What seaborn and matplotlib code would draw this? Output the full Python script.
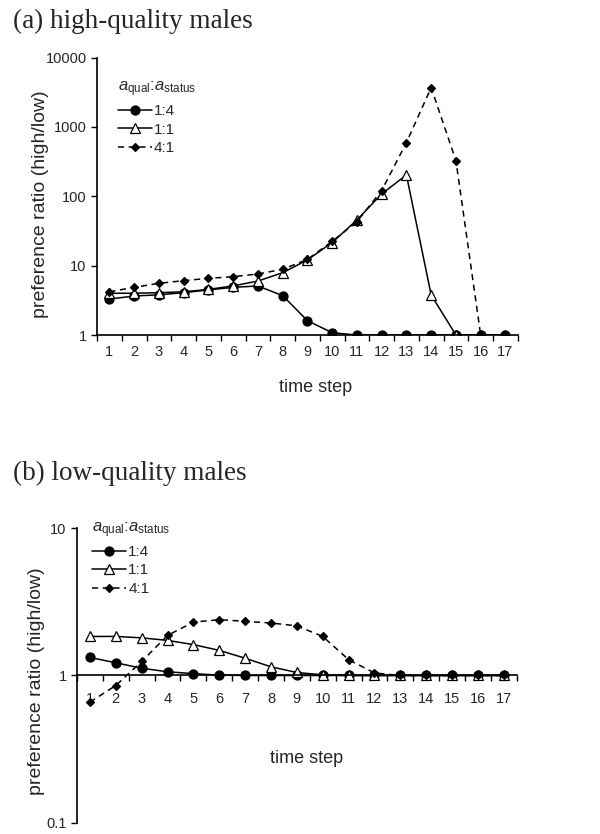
import seaborn as sns
import matplotlib.pyplot as plt
import matplotlib.ticker as mticker
import numpy as np

# time steps and preference ratios
steps = list(range(1, 18))

high_14 = [3.3, 3.65, 3.8, 4.08, 4.46, 4.87, 5.09, 3.7, 1.61, 1.08, 1.0, 1.0, 1.0, 1.0, 1.0, 1.0, 1.0]
high_11 = [4.0, 4.0, 4.08, 4.2, 4.55, 5.1, 6.0, 7.9, 12.1, 21.5, 45.6, 108, 203, 3.77, 1.0, 1.0, 1.0]
high_41 = [4.2, 4.87, 5.56, 6.08, 6.56, 6.94, 7.58, 8.85, 12.3, 22.4, 43, 121, 594, 3690, 327, 1.0, 1.0]

low_14 = [1.325, 1.22, 1.12, 1.06, 1.03, 1.005, 1.0, 1.0, 1.0, 1.0, 1.0, 1.0, 1.0, 1.0, 1.0, 1.0, 1.0]
low_11 = [1.84, 1.84, 1.80, 1.73, 1.62, 1.48, 1.31, 1.145, 1.048, 1.01, 1.0, 1.0, 1.0, 1.0, 1.0, 1.0, 1.0]
low_41 = [0.66, 0.855, 1.245, 1.87, 2.30, 2.39, 2.33, 2.27, 2.17, 1.84, 1.28, 1.04, 1.0, 1.0, 1.0, 1.0, 1.0]

ratio_labels = ['1:4', '1:1', '4:1']

sns.set_style("ticks")
plt.rcParams['font.family'] = ['Liberation Sans', 'DejaVu Sans']
plt.rcParams['mathtext.fontset'] = 'custom'
plt.rcParams['mathtext.rm'] = 'Liberation Sans'
plt.rcParams['mathtext.it'] = 'Liberation Sans:italic'

fig = plt.figure(figsize=(6, 8.34), dpi=100)
ax1 = fig.add_axes([0.1617, 0.5983, 0.7013, 0.3327])
ax2 = fig.add_axes([0.1283, 0.0132, 0.733, 0.3537])

styles = [
    dict(marker='o', markersize=6.5, markerfacecolor='black', markeredgecolor='black', linestyle='-'),
    dict(marker='^', markersize=6.5, markerfacecolor='white', markeredgecolor='black', linestyle='-'),
    dict(marker='D', markersize=4, markerfacecolor='black', markeredgecolor='black', linestyle=(0, (4, 3))),
]


def draw(ax, series):
    for vals, lab, st in zip(series, ratio_labels, styles):
        sns.lineplot(x=steps, y=vals, ax=ax, color='black', linewidth=1.1,
                     label=lab, markeredgewidth=0.9, **st)
    ax.set_yscale('log')
    ax.set_xlim(0.5, 17.5)
    ax.xaxis.set_major_locator(mticker.FixedLocator(steps))
    ax.xaxis.set_minor_locator(mticker.FixedLocator(np.arange(0.5, 18, 1)))
    ax.tick_params(axis='x', which='major', length=0, labelsize=10.5, pad=7)
    ax.tick_params(axis='x', which='minor', length=4, width=1, direction='out', color='black')
    ax.tick_params(axis='y', which='major', length=4, width=1, direction='out', labelsize=10.5, color='black')
    ax.tick_params(axis='y', which='minor', length=0)
    for s in ['top', 'right']:
        ax.spines[s].set_visible(False)
    for s in ['left', 'bottom']:
        ax.spines[s].set_linewidth(1.2)
        ax.spines[s].set_color('black')
    leg = ax.legend(title=r'$a_{\mathrm{qual}}$:$a_{\mathrm{status}}$', frameon=False,
                    fontsize=11, title_fontsize=12, alignment='left',
                    handlelength=2.2, handletextpad=0.15, labelspacing=0.3,
                    borderpad=0, borderaxespad=0)
    return leg


# (a) high-quality males
draw(ax1, [high_14, high_11, high_41])
ax1.set_ylim(1, 10000)
ax1.yaxis.set_major_locator(mticker.FixedLocator([1, 10, 100, 1000, 10000]))
ax1.yaxis.set_major_formatter(mticker.FixedFormatter(['1', '10', '100', '1000', '10000']))
ax1.yaxis.set_minor_locator(mticker.NullLocator())
ax1.legend_.set_bbox_to_anchor((0.05, 0.92))
ax1.legend_.set_loc('upper left')
ax1.set_xlabel('time step', fontsize=13)
ax1.xaxis.set_label_coords(0.52, -0.16)
ax1.set_ylabel('preference ratio (high/low)', fontsize=14)
ax1.yaxis.set_label_coords(-0.115, 0.47)

# (b) low-quality males
draw(ax2, [low_14, low_11, low_41])
ax2.set_ylim(0.1, 10)
ax2.yaxis.set_major_locator(mticker.FixedLocator([0.1, 1, 10]))
ax2.yaxis.set_major_formatter(mticker.FixedFormatter(['0.1', '1', '10']))
ax2.yaxis.set_minor_locator(mticker.NullLocator())
ax2.spines['bottom'].set_position(('data', 1))
ax2.tick_params(axis='x', which='major', pad=12)
ax2.legend_.set_bbox_to_anchor((0.035, 1.025))
ax2.legend_.set_loc('upper left')
ax2.set_xlabel('time step', fontsize=13)
ax2.xaxis.set_label_coords(0.523, 0.247)
ax2.set_ylabel('preference ratio (high/low)', fontsize=14)
ax2.yaxis.set_label_coords(-0.072, 0.48)

fig.text(0.021, 0.9664, '(a) high-quality males', family='Liberation Serif', fontsize=19.5, va='baseline')
fig.text(0.021, 0.4245, '(b) low-quality males', family='Liberation Serif', fontsize=19.5, va='baseline')

fig.savefig('out.png', dpi=100)
